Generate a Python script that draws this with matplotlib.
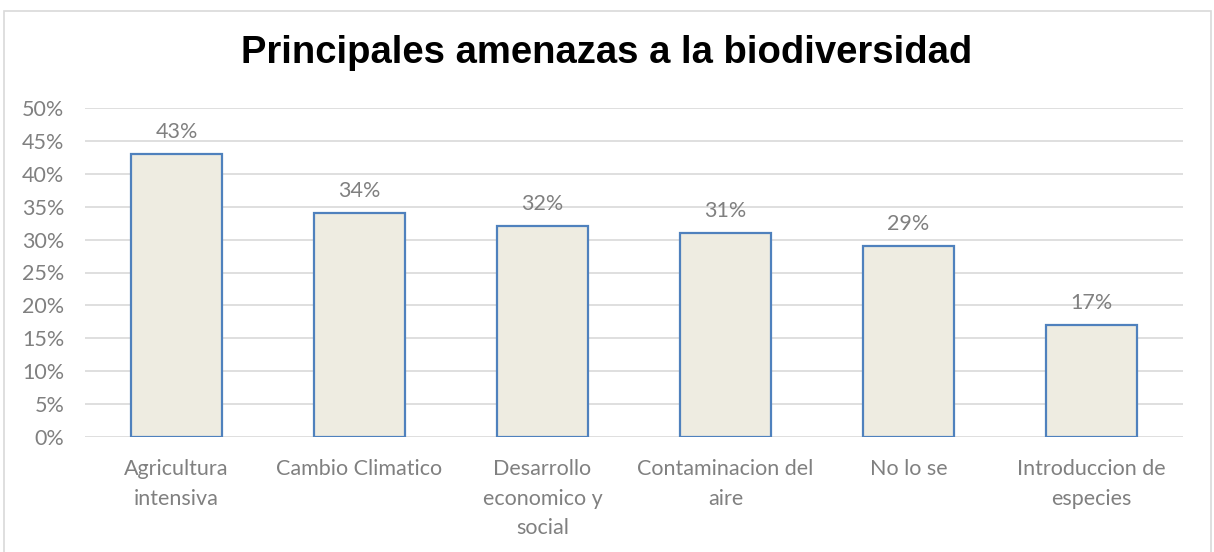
import matplotlib
matplotlib.use("Agg")
import matplotlib.pyplot as plt
from matplotlib.ticker import MultipleLocator, FuncFormatter
from matplotlib.patches import Rectangle

categories = ["Agricultura\nintensiva", "Cambio Climatico", "Desarrollo\neconomico y\nsocial",
              "Contaminacion del\naire", "No lo se", "Introduccion de\nespecies"]
values = [43, 34, 32, 31, 29, 17]
title = "Principales amenazas a la biodiversidad"

W, H = 1214, 552
fig = plt.figure(figsize=(W / 100, H / 100), dpi=100)
fig.patch.set_facecolor("white")

# outer chart border
fig.patches.append(Rectangle((4 / W, -0.01), (1211 - 4) / W, 1 - 11 / H + 0.01,
                             transform=fig.transFigure, fill=False,
                             edgecolor="#D9D9D9", linewidth=1.2))

left, right = 85 / W, 1183 / W
top, bottom = 1 - 108 / H, 1 - 437 / H
ax = fig.add_axes([left, bottom, right - left, top - bottom])

x = list(range(len(categories)))
bars = ax.bar(x, values, width=0.5, color="#EEECE1", edgecolor="#4F81BD",
              linewidth=1.6, zorder=3)

FS = 15.5
ax.set_xlim(-0.5, len(categories) - 0.5)
ax.set_ylim(0, 50)
ax.yaxis.set_major_locator(MultipleLocator(5))
ax.yaxis.set_major_formatter(FuncFormatter(lambda v, p: f"{int(v)}%"))
ax.grid(axis="y", color="#D9D9D9", linewidth=1.2, zorder=0)
for s in ax.spines.values():
    s.set_visible(False)
ax.tick_params(axis="both", length=0, colors="#808080", labelsize=FS)
ax.tick_params(axis="y", pad=15)
ax.tick_params(axis="x", pad=16)
ax.set_xticks(x)
ax.set_xticklabels(categories, fontfamily="Lato", linespacing=1.58)
for lab in ax.get_yticklabels():
    lab.set_fontfamily("Lato")

for xi, v in zip(x, values):
    ax.annotate(f"{v}%", (xi, v), xytext=(0, 9), textcoords="offset points",
                ha="center", va="bottom", fontsize=FS, color="#808080",
                fontfamily="Lato")

fig.text(0.5, 1 - 53 / H, title, ha="center", va="center", fontsize=27.5,
         fontweight="bold", fontfamily="Liberation Sans", color="black")

fig.savefig("out.png", dpi=100)
